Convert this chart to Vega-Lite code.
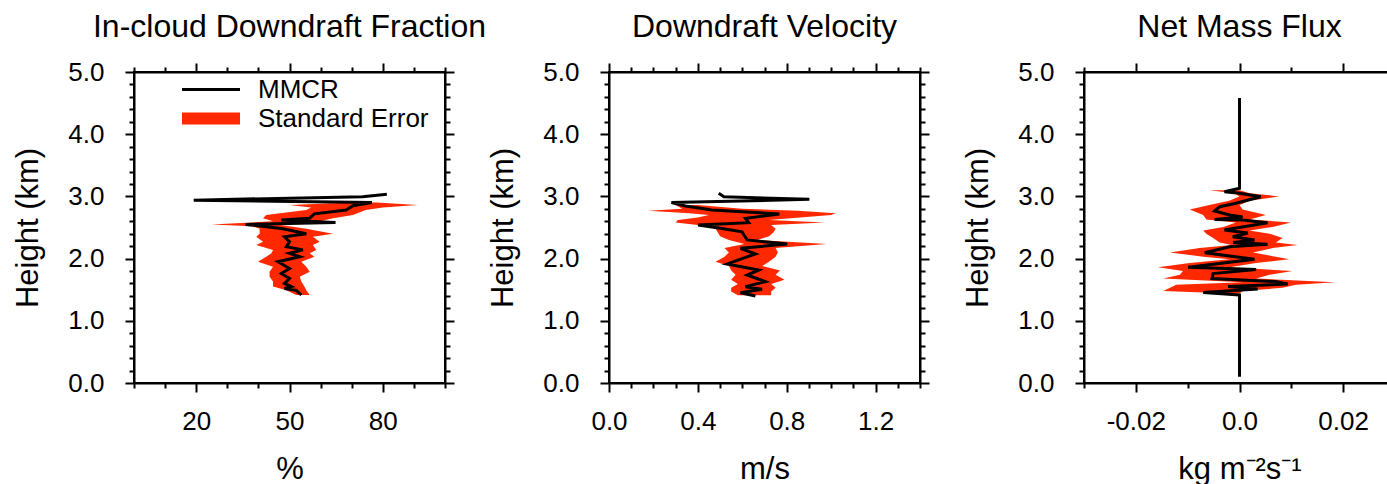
{
  "$schema": "https://vega.github.io/schema/vega-lite/v6.json",
  "padding": {"left": 11, "top": 10, "right": 0, "bottom": 0},
  "background": "white",
  "config": {
    "font": "Liberation Sans",
    "view": {"stroke": "black", "strokeWidth": 2},
    "axis": {
      "domainColor": "black", "domainWidth": 2, "tickColor": "black", "tickWidth": 2,
      "labelFont": "Liberation Sans", "labelFontSize": 26, "labelColor": "black",
      "titleFont": "Liberation Sans", "titleFontSize": 31, "titleFontWeight": "normal", "titleColor": "black",
      "grid": false, "labelOverlap": false, "labelFlush": false, "labelBound": false
    }
  },
  "bounds": "flush",
  "spacing": 164,
  "datasets": {
    "fracLine": [
      {"h": 3.034, "v": 81.3}, {"h": 2.995, "v": 73.5}, {"h": 2.94, "v": 19.2}, {"h": 2.90, "v": 76.5},
      {"h": 2.85, "v": 70.4}, {"h": 2.78, "v": 68.2}, {"h": 2.72, "v": 58}, {"h": 2.65, "v": 56.5},
      {"h": 2.62, "v": 47.4}, {"h": 2.58, "v": 64.8}, {"h": 2.55, "v": 35.9}, {"h": 2.48, "v": 47.9},
      {"h": 2.40, "v": 55.4}, {"h": 2.35, "v": 48.4}, {"h": 2.27, "v": 50}, {"h": 2.19, "v": 49},
      {"h": 2.14, "v": 54.3}, {"h": 2.085, "v": 50}, {"h": 2.03, "v": 53.3}, {"h": 1.95, "v": 46.3},
      {"h": 1.84, "v": 50}, {"h": 1.76, "v": 47.4}, {"h": 1.68, "v": 50}, {"h": 1.60, "v": 48.4},
      {"h": 1.55, "v": 50.6}, {"h": 1.52, "v": 48.4}, {"h": 1.49, "v": 52.2}, {"h": 1.415, "v": 53.8}
    ],
    "fracBand": [
      {"h": 2.90, "lo": 70, "hi": 78}, {"h": 2.86, "lo": 50, "hi": 91.2}, {"h": 2.82, "lo": 57, "hi": 80},
      {"h": 2.78, "lo": 55.4, "hi": 74.5}, {"h": 2.70, "lo": 42.5, "hi": 70.4}, {"h": 2.65, "lo": 41.5, "hi": 64},
      {"h": 2.60, "lo": 44.7, "hi": 59.7}, {"h": 2.55, "lo": 24.9, "hi": 45.7}, {"h": 2.52, "lo": 38, "hi": 50},
      {"h": 2.48, "lo": 40.4, "hi": 55.4}, {"h": 2.40, "lo": 40.4, "hi": 64}, {"h": 2.35, "lo": 39.3, "hi": 57.5},
      {"h": 2.27, "lo": 41.5, "hi": 59.7}, {"h": 2.22, "lo": 39.3, "hi": 57.5}, {"h": 2.14, "lo": 44.7, "hi": 58.6},
      {"h": 2.085, "lo": 44.2, "hi": 56.5}, {"h": 2.03, "lo": 42.5, "hi": 58}, {"h": 1.95, "lo": 39.9, "hi": 53.8},
      {"h": 1.87, "lo": 44.7, "hi": 55.4}, {"h": 1.79, "lo": 43.6, "hi": 56.5}, {"h": 1.71, "lo": 43.6, "hi": 53.3},
      {"h": 1.63, "lo": 44.7, "hi": 53.8}, {"h": 1.55, "lo": 44.7, "hi": 54.8}, {"h": 1.49, "lo": 49, "hi": 55.4},
      {"h": 1.415, "lo": 52.2, "hi": 56.5}
    ],
    "velLine": [
      {"h": 3.05, "v": 0.494}, {"h": 2.995, "v": 0.517}, {"h": 2.953, "v": 0.902}, {"h": 2.90, "v": 0.281},
      {"h": 2.846, "v": 0.344}, {"h": 2.78, "v": 0.464}, {"h": 2.717, "v": 0.767}, {"h": 2.647, "v": 0.614},
      {"h": 2.578, "v": 0.629}, {"h": 2.54, "v": 0.401}, {"h": 2.487, "v": 0.501}, {"h": 2.43, "v": 0.599},
      {"h": 2.30, "v": 0.622}, {"h": 2.235, "v": 0.802}, {"h": 2.165, "v": 0.592}, {"h": 2.074, "v": 0.659},
      {"h": 2.0, "v": 0.599}, {"h": 1.913, "v": 0.532}, {"h": 1.817, "v": 0.674}, {"h": 1.736, "v": 0.622},
      {"h": 1.629, "v": 0.704}, {"h": 1.549, "v": 0.614}, {"h": 1.506, "v": 0.689}, {"h": 1.452, "v": 0.592},
      {"h": 1.399, "v": 0.659}
    ],
    "velBand": [
      {"h": 2.86, "lo": 0.30, "hi": 0.40}, {"h": 2.80, "lo": 0.33, "hi": 0.60}, {"h": 2.77, "lo": 0.176, "hi": 0.85},
      {"h": 2.73, "lo": 0.36, "hi": 1.02}, {"h": 2.70, "lo": 0.45, "hi": 1.00}, {"h": 2.66, "lo": 0.40, "hi": 0.86},
      {"h": 2.62, "lo": 0.31, "hi": 0.72}, {"h": 2.58, "lo": 0.30, "hi": 0.97}, {"h": 2.54, "lo": 0.40, "hi": 0.73},
      {"h": 2.48, "lo": 0.48, "hi": 0.75}, {"h": 2.42, "lo": 0.49, "hi": 0.74}, {"h": 2.36, "lo": 0.50, "hi": 0.72},
      {"h": 2.30, "lo": 0.54, "hi": 0.67}, {"h": 2.235, "lo": 0.61, "hi": 0.98}, {"h": 2.17, "lo": 0.52, "hi": 0.75},
      {"h": 2.10, "lo": 0.54, "hi": 0.76}, {"h": 2.03, "lo": 0.52, "hi": 0.75}, {"h": 1.95, "lo": 0.48, "hi": 0.72},
      {"h": 1.88, "lo": 0.54, "hi": 0.69}, {"h": 1.81, "lo": 0.55, "hi": 0.77}, {"h": 1.74, "lo": 0.57, "hi": 0.75},
      {"h": 1.66, "lo": 0.55, "hi": 0.79}, {"h": 1.59, "lo": 0.58, "hi": 0.73}, {"h": 1.53, "lo": 0.55, "hi": 0.75},
      {"h": 1.47, "lo": 0.55, "hi": 0.73}, {"h": 1.41, "lo": 0.58, "hi": 0.73}
    ],
    "fluxLine": [
      {"h": 4.58, "v": 0}, {"h": 3.13, "v": 0}, {"h": 3.076, "v": -0.0029}, {"h": 3.05, "v": 0},
      {"h": 2.995, "v": 0.0041}, {"h": 2.889, "v": -0.0007}, {"h": 2.835, "v": -0.0038}, {"h": 2.765, "v": -0.0048},
      {"h": 2.70, "v": -0.0019}, {"h": 2.67, "v": 0.0006}, {"h": 2.63, "v": -0.0048}, {"h": 2.62, "v": 0.0006},
      {"h": 2.578, "v": 0.0054}, {"h": 2.46, "v": -0.0029}, {"h": 2.41, "v": 0.0016}, {"h": 2.35, "v": -0.0013},
      {"h": 2.30, "v": 0.0029}, {"h": 2.26, "v": -0.0012}, {"h": 2.23, "v": 0.0054}, {"h": 2.19, "v": -0.0019},
      {"h": 2.095, "v": -0.0067}, {"h": 1.99, "v": 0.0029}, {"h": 1.93, "v": -0.0031}, {"h": 1.86, "v": -0.0099},
      {"h": 1.826, "v": 0.0032}, {"h": 1.76, "v": -0.0051}, {"h": 1.68, "v": -0.0053}, {"h": 1.63, "v": 0.0070},
      {"h": 1.59, "v": 0.0093}, {"h": 1.55, "v": -0.0022}, {"h": 1.51, "v": 0.0035}, {"h": 1.456, "v": -0.0070},
      {"h": 1.415, "v": 0}, {"h": 0.10, "v": 0}
    ],
    "fluxBand": [
      {"h": 3.10, "lo": -0.0058, "hi": 0}, {"h": 3.05, "lo": -0.001, "hi": 0.002}, {"h": 3.00, "lo": 0, "hi": 0.0077},
      {"h": 2.93, "lo": -0.002, "hi": 0.002}, {"h": 2.86, "lo": -0.0058, "hi": 0}, {"h": 2.79, "lo": -0.0096, "hi": 0.0006},
      {"h": 2.70, "lo": -0.0070, "hi": 0.0051}, {"h": 2.63, "lo": -0.0064, "hi": 0.0019}, {"h": 2.58, "lo": -0.0007, "hi": 0.0099},
      {"h": 2.51, "lo": -0.0031, "hi": 0.0064}, {"h": 2.45, "lo": -0.0070, "hi": 0.0019}, {"h": 2.40, "lo": -0.0064, "hi": 0.0058},
      {"h": 2.33, "lo": -0.0051, "hi": 0.0083}, {"h": 2.26, "lo": -0.0038, "hi": 0.0070}, {"h": 2.22, "lo": -0.0015, "hi": 0.0112},
      {"h": 2.17, "lo": -0.0077, "hi": 0.0064}, {"h": 2.10, "lo": -0.0134, "hi": 0.0026}, {"h": 2.03, "lo": -0.0070, "hi": 0.0070},
      {"h": 1.99, "lo": -0.0019, "hi": 0.0096}, {"h": 1.93, "lo": -0.0096, "hi": 0.0032}, {"h": 1.86, "lo": -0.0157, "hi": -0.0019},
      {"h": 1.80, "lo": -0.0109, "hi": 0.0102}, {"h": 1.74, "lo": -0.0115, "hi": 0.0058}, {"h": 1.68, "lo": -0.0147, "hi": 0.0032},
      {"h": 1.62, "lo": 0.0006, "hi": 0.0184}, {"h": 1.58, "lo": -0.0122, "hi": 0.0109}, {"h": 1.53, "lo": -0.0134, "hi": 0.0083},
      {"h": 1.48, "lo": -0.0147, "hi": 0.0006}, {"h": 1.44, "lo": -0.0019, "hi": 0}
    ]
  },
  "hconcat": [
    {
      "width": 311, "height": 311,
      "title": {"text": "In-cloud Downdraft Fraction", "frame": "group", "offset": 15, "fontSize": 32, "fontWeight": "normal", "font": "Liberation Sans", "color": "black"},
      "layer": [
        {
          "data": {"name": "fracBand"},
          "mark": {"type": "area", "orient": "horizontal", "color": "#ff2800", "opacity": 1},
          "encoding": {
            "y": {"field": "h", "type": "quantitative", "scale": {"domain": [0, 5], "nice": false, "zero": false},
                  "axis": {"orient": "left", "title": "Height (km)", "titlePadding": 23, "labelPadding": 21,
                           "values": [0,0.2,0.4,0.6,0.8,1,1.2,1.4,1.6,1.8,2,2.2,2.4,2.6,2.8,3,3.2,3.4,3.6,3.8,4,4.2,4.4,4.6,4.8,5],
                           "labelExpr": "indexof([0,1,2,3,4,5], datum.value) >= 0 ? format(datum.value, '.1f') : ''",
                           "tickSize": {"condition": {"test": "indexof([0,1,2,3,4,5], datum.value) >= 0", "value": 9}, "value": 5}}},
            "x": {"field": "lo", "type": "quantitative", "scale": {"domain": [0, 100], "nice": false, "zero": false},
                  "axis": {"orient": "bottom", "title": "%", "titlePadding": 20, "labelPadding": 16,
                           "values": [0,10,20,30,40,50,60,70,80,90,100],
                           "labelExpr": "indexof([20,50,80], datum.value) >= 0 ? format(datum.value, 'd') : ''",
                           "tickSize": {"condition": {"test": "indexof([20,50,80], datum.value) >= 0", "value": 9}, "value": 5}}},
            "x2": {"field": "hi"}
          }
        },
        {
          "data": {"name": "fracLine"},
          "mark": {"type": "line", "color": "black"},
          "encoding": {
            "y": {"field": "h", "type": "quantitative",
                  "axis": {"orient": "right", "title": null, "labels": false,
                           "values": [0,0.2,0.4,0.6,0.8,1,1.2,1.4,1.6,1.8,2,2.2,2.4,2.6,2.8,3,3.2,3.4,3.6,3.8,4,4.2,4.4,4.6,4.8,5],
                           "tickSize": {"condition": {"test": "indexof([0,1,2,3,4,5], datum.value) >= 0", "value": 9}, "value": 5}}},
            "x": {"field": "v", "type": "quantitative",
                  "axis": {"orient": "top", "title": null, "labels": false,
                           "values": [0,10,20,30,40,50,60,70,80,90,100],
                           "tickSize": {"condition": {"test": "indexof([20,50,80], datum.value) >= 0", "value": 9}, "value": 5}}},
            "order": {"field": "h", "type": "quantitative"},
            "color": {"datum": "MMCR", "type": "nominal",
                      "scale": {"domain": ["MMCR", "Standard Error"], "range": ["black", "#ff2800"]},
                      "legend": {"title": null, "orient": "none", "legendX": 42, "legendY": 3, "padding": 0,
                                 "symbolType": "stroke", "symbolSize": 3364, "clipHeight": 29,
                                 "labelFontSize": 26, "labelFont": "Liberation Sans", "labelColor": "black", "labelLimit": 0,
                                 "labelOffset": 12, "rowPadding": 0}},
            "strokeWidth": {"datum": "MMCR", "type": "nominal",
                      "scale": {"type": "ordinal", "domain": ["MMCR", "Standard Error"], "range": [3, 12]},
                      "legend": {"title": null, "orient": "none", "legendX": 42, "legendY": 3, "padding": 0,
                                 "symbolType": "stroke", "symbolSize": 3364, "clipHeight": 29,
                                 "labelFontSize": 26, "labelFont": "Liberation Sans", "labelColor": "black", "labelLimit": 0,
                                 "labelOffset": 12, "rowPadding": 0}}
          }
        }
      ],
      "resolve": {"axis": {"x": "independent", "y": "independent"}}
    },
    {
      "width": 311, "height": 311,
      "title": {"text": "Downdraft Velocity", "frame": "group", "offset": 15, "fontSize": 32, "fontWeight": "normal", "font": "Liberation Sans", "color": "black"},
      "layer": [
        {
          "data": {"name": "velBand"},
          "mark": {"type": "area", "orient": "horizontal", "color": "#ff2800", "opacity": 1},
          "encoding": {
            "y": {"field": "h", "type": "quantitative", "scale": {"domain": [0, 5], "nice": false, "zero": false},
                  "axis": {"orient": "left", "title": "Height (km)", "titlePadding": 23, "labelPadding": 21,
                           "values": [0,0.2,0.4,0.6,0.8,1,1.2,1.4,1.6,1.8,2,2.2,2.4,2.6,2.8,3,3.2,3.4,3.6,3.8,4,4.2,4.4,4.6,4.8,5],
                           "labelExpr": "indexof([0,1,2,3,4,5], datum.value) >= 0 ? format(datum.value, '.1f') : ''",
                           "tickSize": {"condition": {"test": "indexof([0,1,2,3,4,5], datum.value) >= 0", "value": 9}, "value": 5}}},
            "x": {"field": "lo", "type": "quantitative", "scale": {"domain": [0, 1.4], "nice": false, "zero": false},
                  "axis": {"orient": "bottom", "title": "m/s", "titlePadding": 20, "labelPadding": 16,
                           "values": [0,0.1,0.2,0.3,0.4,0.5,0.6,0.7,0.8,0.9,1,1.1,1.2,1.3,1.4],
                           "labelExpr": "indexof([0,0.4,0.8,1.2], datum.value) >= 0 ? format(datum.value, '.1f') : ''",
                           "tickSize": {"condition": {"test": "indexof([0,0.4,0.8,1.2], datum.value) >= 0", "value": 9}, "value": 5}}},
            "x2": {"field": "hi"}
          }
        },
        {
          "data": {"name": "velLine"},
          "mark": {"type": "line", "color": "black", "strokeWidth": 3},
          "encoding": {
            "y": {"field": "h", "type": "quantitative",
                  "axis": {"orient": "right", "title": null, "labels": false,
                           "values": [0,0.2,0.4,0.6,0.8,1,1.2,1.4,1.6,1.8,2,2.2,2.4,2.6,2.8,3,3.2,3.4,3.6,3.8,4,4.2,4.4,4.6,4.8,5],
                           "tickSize": {"condition": {"test": "indexof([0,1,2,3,4,5], datum.value) >= 0", "value": 9}, "value": 5}}},
            "x": {"field": "v", "type": "quantitative",
                  "axis": {"orient": "top", "title": null, "labels": false,
                           "values": [0,0.1,0.2,0.3,0.4,0.5,0.6,0.7,0.8,0.9,1,1.1,1.2,1.3,1.4],
                           "tickSize": {"condition": {"test": "indexof([0,0.4,0.8,1.2], datum.value) >= 0", "value": 9}, "value": 5}}},
            "order": {"field": "h", "type": "quantitative"}
          }
        }
      ],
      "resolve": {"axis": {"x": "independent", "y": "independent"}}
    },
    {
      "width": 311, "height": 311,
      "title": {"text": "Net Mass Flux", "frame": "group", "offset": 15, "fontSize": 32, "fontWeight": "normal", "font": "Liberation Sans", "color": "black"},
      "layer": [
        {
          "data": {"name": "fluxBand"},
          "mark": {"type": "area", "orient": "horizontal", "color": "#ff2800", "opacity": 1},
          "encoding": {
            "y": {"field": "h", "type": "quantitative", "scale": {"domain": [0, 5], "nice": false, "zero": false},
                  "axis": {"orient": "left", "title": "Height (km)", "titlePadding": 23, "labelPadding": 21,
                           "values": [0,0.2,0.4,0.6,0.8,1,1.2,1.4,1.6,1.8,2,2.2,2.4,2.6,2.8,3,3.2,3.4,3.6,3.8,4,4.2,4.4,4.6,4.8,5],
                           "labelExpr": "indexof([0,1,2,3,4,5], datum.value) >= 0 ? format(datum.value, '.1f') : ''",
                           "tickSize": {"condition": {"test": "indexof([0,1,2,3,4,5], datum.value) >= 0", "value": 9}, "value": 5}}},
            "x": {"field": "lo", "type": "quantitative", "scale": {"domain": [-0.03, 0.03], "nice": false, "zero": false},
                  "axis": {"orient": "bottom", "title": "kg m⁻²s⁻¹", "titlePadding": 20, "labelPadding": 16,
                           "values": [-0.03,-0.02,-0.01,0,0.01,0.02,0.03],
                           "labelExpr": "indexof([-0.02,0,0.02], datum.value) < 0 ? '' : (datum.value == 0 ? '0.0' : (datum.value < 0 ? '-' : '') + format(abs(datum.value), '.2f'))",
                           "tickSize": {"condition": {"test": "indexof([-0.02,0,0.02], datum.value) >= 0", "value": 9}, "value": 5}}},
            "x2": {"field": "hi"}
          }
        },
        {
          "data": {"name": "fluxLine"},
          "mark": {"type": "line", "color": "black", "strokeWidth": 3},
          "encoding": {
            "y": {"field": "h", "type": "quantitative",
                  "axis": {"orient": "right", "title": null, "labels": false,
                           "values": [0,0.2,0.4,0.6,0.8,1,1.2,1.4,1.6,1.8,2,2.2,2.4,2.6,2.8,3,3.2,3.4,3.6,3.8,4,4.2,4.4,4.6,4.8,5],
                           "tickSize": {"condition": {"test": "indexof([0,1,2,3,4,5], datum.value) >= 0", "value": 9}, "value": 5}}},
            "x": {"field": "v", "type": "quantitative",
                  "axis": {"orient": "top", "title": null, "labels": false,
                           "values": [-0.03,-0.02,-0.01,0,0.01,0.02,0.03],
                           "tickSize": {"condition": {"test": "indexof([-0.02,0,0.02], datum.value) >= 0", "value": 9}, "value": 5}}},
            "order": {"field": "h", "type": "quantitative"}
          }
        }
      ],
      "resolve": {"axis": {"x": "independent", "y": "independent"}}
    }
  ]
}
